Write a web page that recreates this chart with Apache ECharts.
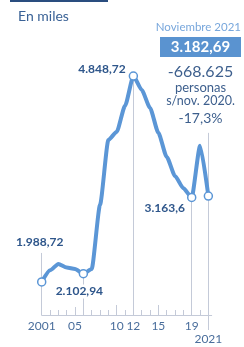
<!DOCTYPE html>
<html>
<head>
<meta charset="utf-8">
<script src="https://cdn.jsdelivr.net/npm/echarts@6/dist/echarts.min.js"></script>
<style>
  html, body { margin: 0; padding: 0; background: #fff; }
  #chart { width: 244px; height: 347px; }
</style>
</head>
<body>
<div id="chart"></div>
<script>
  // datos (miles de personas)
  var years = [2001, 2002, 2003, 2004, 2005, 2006, 2007, 2008, 2009, 2010, 2011,
               2012, 2013, 2014, 2015, 2016, 2017, 2018, 2019, 2020, 2021];
  var paro = [1988.72, 2150, 2240, 2190, 2170, 2102.94, 2170, 3060, 3962, 4074, 4435,
              4848.72, 4657, 4407, 4060, 3726, 3462, 3290, 3163.6, 3880, 3182.69];
  var pointYears = [2001, 2006, 2012, 2019, 2021];
  var pointLabels = ['1.988,72', '2.102,94', '4.848,72', '3.163,6', ''];
  var labelYears = [2001, 2005, 2010, 2012, 2015, 2019];
  var lastYear = 2021;

  var yMin = 1530, yMax = 5350;
  var blue = '#5b96d6';
  var dark = '#2e568b';
  var grey = '#c4cad8';
  var font = 'Lato';

  // estilo de etiqueta para cada punto marcado
  var labelStyles = {
    2001: { position: 'top', distance: 5, offset: [-2, -24] },
    2006: { position: 'bottom', distance: 5, offset: [-4, 1], backgroundColor: '#fff', padding: [1, 2] },
    2012: { position: 'left', distance: 3, offset: [0, -7] },
    2019: { position: 'left', distance: 2, offset: [0, 11] }
  };
  // altura superior de las líneas verticales
  var guideTop = { 2001: 2392, 2021: 4060 };

  var seriesData = years.map(function (y, i) {
    var k = pointYears.indexOf(y);
    if (k < 0) return { value: [y, paro[i]], symbol: 'none' };
    var item = { value: [y, paro[i]] };
    if (pointLabels[k]) {
      item.label = Object.assign({
        show: true,
        formatter: pointLabels[k],
        fontFamily: font,
        fontWeight: 'bold',
        fontSize: 12,
        color: dark
      }, labelStyles[y]);
    }
    return item;
  });

  var guides = pointYears.map(function (y) {
    var top = guideTop[y] || paro[years.indexOf(y)];
    return [{ coord: [y, yMin] }, { coord: [y, top] }];
  });

  function xAx(extra) {
    return Object.assign({
      type: 'value',
      min: 2001,
      max: 2021.4,
      position: 'bottom',
      splitLine: { show: false },
      axisLine: { show: false },
      axisLabel: { show: false },
      axisTick: { show: false }
    }, extra);
  }

  var option = {
    animation: false,
    grid: { left: 41.7, right: 32.3, top: 40, bottom: 32, outerBoundsMode: 'none' },
    xAxis: [
      xAx({
        axisLine: { show: true, lineStyle: { color: grey, width: 1 } },
        axisTick: { show: true, inside: true, length: 5, customValues: years, lineStyle: { color: grey } },
        axisLabel: {
          show: true,
          customValues: labelYears,
          margin: 5,
          fontFamily: font,
          fontSize: 12,
          color: '#4a6e9c',
          formatter: function (v) { return v === 2001 ? '2001' : String(v).slice(2); }
        }
      }),
      xAx({ axisTick: { show: true, inside: true, length: 8, customValues: [2005], lineStyle: { color: grey } } }),
      xAx({ axisTick: { show: true, inside: true, length: 10, customValues: [2010, 2015], lineStyle: { color: grey } } }),
      xAx({
        axisTick: { show: true, inside: false, length: 15, customValues: [lastYear], lineStyle: { color: grey } },
        axisLabel: {
          show: true,
          customValues: [lastYear],
          margin: 18,
          fontFamily: font,
          fontSize: 12,
          color: '#4a6e9c',
          formatter: function (v) { return String(v); }
        }
      })
    ],
    yAxis: { type: 'value', min: yMin, max: yMax, show: false },
    graphic: [
      { type: 'rect', shape: { x: 10, y: 0, width: 98, height: 2 }, style: { fill: '#2a4d7f' } },
      { type: 'text', left: 18, top: 9, style: { text: 'En miles', font: '14px Lato', fill: '#3a6296' } },
      { type: 'text', x: 241, y: 27, style: { text: 'Noviembre 2021', font: '11.5px Lato', fill: '#78a7dc', textAlign: 'right', textVerticalAlign: 'middle' } },
      { type: 'rect', shape: { x: 160, y: 37, width: 81, height: 20 }, style: { fill: '#5a93d0' } },
      { type: 'text', x: 200.5, y: 47, style: { text: '3.182,69', font: 'bold 15px Lato', fill: '#fff', textAlign: 'center', textVerticalAlign: 'middle' } },
      { type: 'text', x: 200.5, y: 72, style: { text: '-668.625', font: '16px Lato', fill: '#3d5f8d', textAlign: 'center', textVerticalAlign: 'middle' } },
      { type: 'text', x: 200.5, y: 88, style: { text: 'personas', font: '13px Lato', fill: '#3d5f8d', textAlign: 'center', textVerticalAlign: 'middle' } },
      { type: 'text', x: 200.5, y: 100.5, style: { text: 's/nov. 2020.', font: '12.5px Lato', fill: '#3d5f8d', textAlign: 'center', textVerticalAlign: 'middle' } },
      { type: 'text', x: 200.5, y: 118.5, style: { text: '-17,3%', font: '14px Lato', fill: '#3d5f8d', textAlign: 'center', textVerticalAlign: 'middle' } }
    ],
    series: [{
      type: 'line',
      xAxisIndex: 0,
      data: seriesData,
      smooth: 0.2,
      smoothMonotone: 'x',
      clip: false,
      symbol: 'circle',
      symbolSize: 8,
      z: 3,
      lineStyle: { color: blue, width: 4 },
      itemStyle: { color: '#fff', borderColor: blue, borderWidth: 1.5 },
      markLine: {
        silent: true,
        symbol: 'none',
        z: 1,
        label: { show: false },
        lineStyle: { color: grey, width: 1, type: 'solid' },
        data: guides
      }
    }]
  };

  var chart = echarts.init(document.getElementById('chart'));
  chart.setOption(option);
</script>
</body>
</html>
